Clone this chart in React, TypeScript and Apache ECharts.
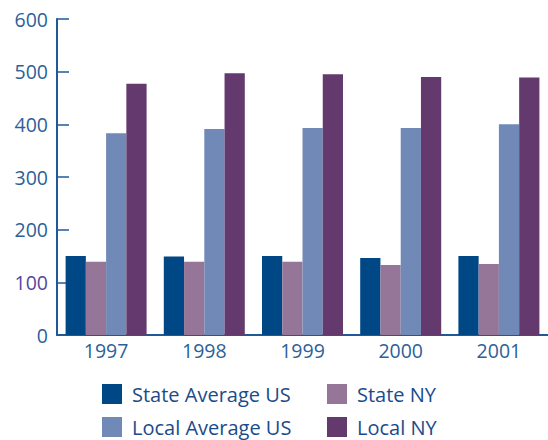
import React, { useEffect, useRef } from "react";
import * as echarts from "echarts";

const years = ["1997", "1998", "1999", "2000", "2001"];
const stateAverageUS = [150, 149, 150, 146, 150];
const stateNY = [139, 139, 139, 133, 135];
const localAverageUS = [383, 391, 393, 393, 400];
const localNY = [477, 497, 495, 490, 489];
const yTicks = [0, 100, 200, 300, 400, 500, 600];

const colors = {
  stateAvg: "#004785",
  stateNY: "#957698",
  localAvg: "#7189b7",
  localNY: "#643a6e",
  axis: "#1f5a98",
  label: "#2e5f98",
  legend: "#1a4b8a",
};

export default function App() {
  const ref = useRef<HTMLDivElement>(null);
  useEffect(() => {
    if (!ref.current) return;
    const chart = echarts.init(ref.current, null, { renderer: "svg" });
    const font = "'Open Sans', 'Noto Sans', sans-serif";
    const bar = (name: string, data: number[], color: string) => ({
      name,
      type: "bar",
      data,
      barWidth: 20.25,
      barGap: "0%",
      itemStyle: { color },
    });
    const legendBase = {
      orient: "vertical",
      top: 384,
      height: 56,
      padding: 0,
      itemWidth: 20,
      itemHeight: 20,
      itemGap: 13,
      icon: "rect",
      textStyle: {
        color: colors.legend,
        fontSize: 20,
        lineHeight: 20,
        fontFamily: font,
        padding: [0, 0, 0, 5],
      },
    };
    chart.setOption({
      animation: false,
      textStyle: { fontFamily: font },
      grid: { left: 57, top: 19, width: 502.5, height: 316, containLabel: false },
      xAxis: {
        type: "category",
        data: years,
        axisLine: { lineStyle: { color: colors.axis, width: 2 } },
        axisTick: { show: false },
        axisLabel: { color: colors.label, fontSize: 19.5, fontFamily: font, margin: 5 },
      },
      yAxis: {
        type: "value",
        min: yTicks[0],
        max: yTicks[yTicks.length - 1],
        interval: 100,
        splitLine: { show: false },
        axisLine: { show: true, lineStyle: { color: colors.axis, width: 2 } },
        axisTick: { show: true, inside: true, length: 12, lineStyle: { color: colors.axis, width: 1.5 } },
        axisLabel: {
          color: (v: any) => (Number(v) === 100 ? "#54489c" : colors.label),
          fontSize: 19.5,
          fontFamily: font,
          margin: 9,
        },
      },
      legend: [
        { ...legendBase, left: 102, data: ["State Average US", "Local Average US"] },
        { ...legendBase, left: 327, data: ["State NY", "Local NY"] },
      ],
      series: [
        bar("State Average US", stateAverageUS, colors.stateAvg),
        bar("State NY", stateNY, colors.stateNY),
        bar("Local Average US", localAverageUS, colors.localAvg),
        bar("Local NY", localNY, colors.localNY),
      ],
    });
    return () => chart.dispose();
  }, []);
  return (
    <div
      ref={ref}
      style={{ position: "absolute", left: 0, top: 0, width: 548, height: 440, overflow: "hidden" }}
    />
  );
}
